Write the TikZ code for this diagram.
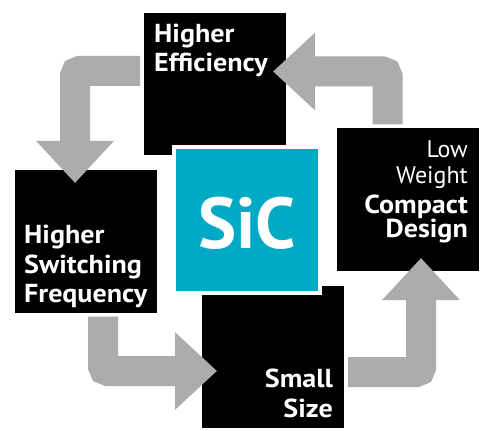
\documentclass[tikz,border=0pt]{standalone}
\usepackage{fontspec}
\newfontfamily\boxfont[FakeStretch=1.08]{PT Sans}
\newfontfamily\boxfontlight{PT Sans}
\usetikzlibrary{arrows.meta,shadows}
\definecolor{arrowgray}{RGB}{172,172,172}
\definecolor{sicteal}{RGB}{0,170,196}
\tikzset{
  card/.style={draw=white, line width=4pt, fill=black, minimum size=146pt, inner sep=0pt,
    drop shadow={shadow xshift=1.5pt, shadow yshift=-1.5pt, opacity=0.35, fill=gray}},
  flow/.style={draw=arrowgray, line width=30pt, rounded corners=5pt,
    -{Triangle[length=42pt,width=75pt]}},
  lbl/.style={inner sep=0pt, text=white, font=\boxfont\bfseries\fontsize{26}{29}\selectfont},
  lbllight/.style={inner sep=0pt, text=white, font=\boxfontlight\fontsize{24}{29}\selectfont},
}
\begin{document}
\begin{tikzpicture}[x=1pt,y=-1pt]
\fill[white] (0,0) rectangle (486,430);
\useasboundingbox (0,0) rectangle (486,430);
% cards
\node[card] (he) at (215,84) {};
\node[card] (lw) at (407.5,199.5) {};
\node[card] (hsf) at (85.5,241.5) {};
\node[card] (ss) at (273,356.5) {};
\node[card, fill=sicteal] (sic) at (246.5,220) {};
% connectors
\draw[flow] ([yshift=13pt]he.west) -| ([xshift=-10.5pt,yshift=-16.5pt]hsf.north);
\draw[flow] ([xshift=-20pt]lw.north) |- ([xshift=-17pt,yshift=12.5pt]he.east);
\draw[flow] ([xshift=17.5pt]hsf.south) |- ([xshift=19pt,yshift=-14.5pt]ss.west);
\draw[flow] ([yshift=-15.5pt]ss.east) -| ([xshift=13.5pt,yshift=16.5pt]lw.south);
% labels
\node[lbl, anchor=base west] (he1) at (154,43) {Higher};
\node[lbl, anchor=base west] (he2) at (154,72) {Efficiency};
\node[lbl, anchor=base west] (hsf1) at (24,243) {Higher};
\node[lbl, anchor=base west] (hsf2) at (24,273) {Switching};
\node[lbl, anchor=base west] (hsf3) at (24,302) {Frequency};
\node[lbllight, anchor=base east] (lw1) at (468,158) {Low};
\node[lbllight, anchor=base east] (lw2) at (468,183) {Weight};
\node[lbl, anchor=base east] (lw3) at (468,213) {Compact};
\node[lbl, anchor=base east] (lw4) at (468,237) {Design};
\node[lbl, anchor=base east] (ss1) at (333,387) {Small};
\node[lbl, anchor=base east] (ss2) at (333,417) {Size};
\node[inner sep=0pt, text=white, font=\boxfontlight\bfseries\fontsize{72}{80}\selectfont, anchor=base] (sict) at (247,248) {SiC};
\end{tikzpicture}
\end{document}
